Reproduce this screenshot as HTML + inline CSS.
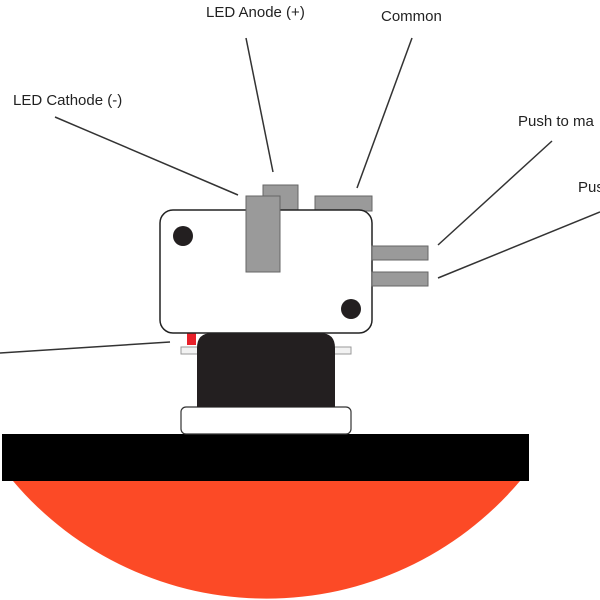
<!DOCTYPE html>
<html><head><style>body{margin:0;background:#fff}svg{display:block}</style></head>
<body>
<svg width="600" height="600" viewBox="0 0 600 600" xmlns="http://www.w3.org/2000/svg" font-family="Liberation Sans, sans-serif" font-size="15" fill="#222">
<path d="M13 481 A332 332 0 0 0 520 481 Z" fill="#fc4a26"/>
<rect x="2" y="434" width="527" height="47" fill="#000"/>
<rect x="181" y="407" width="170" height="27" rx="5" fill="#fff" stroke="#333" stroke-width="1.2"/>
<rect x="181" y="347" width="170" height="7" fill="#f2f2f2" stroke="#999" stroke-width="1"/>
<path d="M197 407 V348 Q197 333 212 333 H320 Q335 333 335 348 V407 Z" fill="#231f20"/>
<rect x="187" y="333" width="9" height="12" fill="#e8202a"/>
<rect x="263" y="185" width="35" height="26" fill="#9a9a9a" stroke="#666" stroke-width="1"/>
<rect x="315" y="196" width="57" height="15" fill="#9a9a9a" stroke="#666" stroke-width="1"/>
<rect x="160" y="210" width="212" height="123" rx="13" fill="#fff" stroke="#222" stroke-width="1.5"/>
<rect x="246" y="196" width="34" height="76" fill="#9a9a9a" stroke="#666" stroke-width="1"/>
<rect x="372" y="246" width="56" height="14" fill="#9a9a9a" stroke="#666" stroke-width="1"/>
<rect x="372" y="272" width="56" height="14" fill="#9a9a9a" stroke="#666" stroke-width="1"/>
<circle cx="183" cy="236" r="10" fill="#231f20"/>
<circle cx="351" cy="309" r="10" fill="#231f20"/>
<g stroke="#333" stroke-width="1.5">
<line x1="55" y1="117" x2="238" y2="195"/>
<line x1="246" y1="38" x2="273" y2="172"/>
<line x1="412" y1="38" x2="357" y2="188"/>
<line x1="552" y1="141" x2="438" y2="245"/>
<line x1="600" y1="212" x2="438" y2="278"/>
<line x1="0" y1="353" x2="170" y2="342"/>
</g>
<text x="206" y="17">LED Anode (+)</text>
<text x="381" y="21">Common</text>
<text x="13" y="105">LED Cathode (-)</text>
<text x="518" y="126">Push to ma</text>
<text x="578" y="192">Pus</text>
</svg>
</body></html>
